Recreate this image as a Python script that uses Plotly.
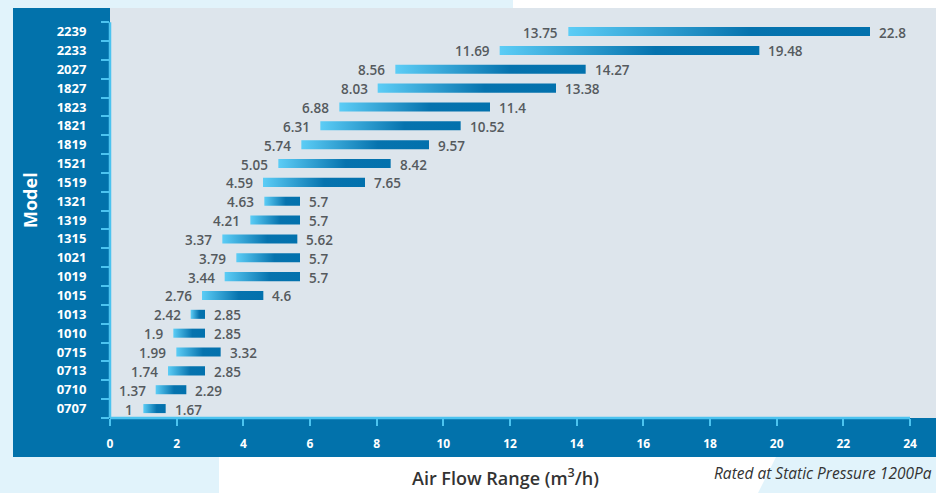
import plotly.graph_objects as go

models = ["0707", "0710", "0713", "0715", "1010", "1013", "1015", "1019", "1021",
          "1315", "1319", "1321", "1519", "1521", "1819", "1821", "1823", "1827",
          "2027", "2233", "2239"]
low = [1, 1.37, 1.74, 1.99, 1.9, 2.42, 2.76, 3.44, 3.79, 3.37, 4.21, 4.63, 4.59,
       5.05, 5.74, 6.31, 6.88, 8.03, 8.56, 11.69, 13.75]
high = [1.67, 2.29, 2.85, 3.32, 2.85, 2.85, 4.6, 5.7, 5.7, 5.62, 5.7, 5.7, 7.65,
        8.42, 9.57, 10.52, 11.4, 13.38, 14.27, 19.48, 22.8]
x_ticks = list(range(0, 25, 2))

W, H = 936, 493
L, R, T, B = 110, 0, 8, 75
PW, PH = W - L - R, H - T - B

FRAME = "#0272ab"
PLOTBG = "#dde5ec"
CYAN = "#4cc3ef"
LIGHTBG = "#e1f3fb"
LABEL = "#555a5e"
FONT = "Open Sans"
HALF = 0.24


def px(x):
    return (x - L) / PW


def py(y):
    return (H - B - y) / PH


fig = go.Figure()

for i, (lo, hi) in enumerate(zip(low, high)):
    fig.add_trace(go.Scatter(
        x=[lo, hi, hi, lo, lo],
        y=[i - HALF, i - HALF, i + HALF, i + HALF, i - HALF],
        mode="lines", fill="toself", line=dict(width=0),
        fillgradient=dict(type="horizontal",
                          colorscale=[[0, "#5ccdf6"], [0.6, "#0673ae"], [1, "#0271ad"]]),
        hoverinfo="skip", showlegend=False))

annotations = []
for i, (lo, hi) in enumerate(zip(low, high)):
    annotations.append(dict(x=lo, y=i, xref="x", yref="y", text=f"{lo:g}",
                            xanchor="right", yanchor="middle", xshift=-8, yshift=-1,
                            showarrow=False,
                            font=dict(family=FONT, size=13.5, color=LABEL, weight=600)))
    annotations.append(dict(x=hi, y=i, xref="x", yref="y", text=f"{hi:g}",
                            xanchor="left", yanchor="middle", xshift=7, yshift=-1,
                            showarrow=False,
                            font=dict(family=FONT, size=13.5, color=LABEL, weight=600)))

annotations.append(dict(x=px(30), y=py(200), xref="paper", yref="paper", text="Model",
                        textangle=-90, showarrow=False, xanchor="center", yanchor="middle",
                        font=dict(family=FONT, size=18, color="white", weight=700)))
annotations.append(dict(x=px(505), y=py(477), xref="paper", yref="paper",
                        text="Air Flow Range (m<sup>3</sup>/h)", showarrow=False,
                        xanchor="center", yanchor="middle",
                        font=dict(family=FONT, size=18, color="#333333", weight=600)))
annotations.append(dict(x=px(712), y=py(473), xref="paper", yref="paper",
                        text="<i>Rated at Static Pressure 1200Pa</i>", showarrow=False,
                        xanchor="left", yanchor="middle",
                        font=dict(family=FONT, size=15.5, color="#333333")))

shapes = [
    # light background pieces
    dict(type="rect", xref="paper", yref="paper", x0=px(0), x1=px(513), y0=py(0), y1=py(8),
         fillcolor=LIGHTBG, line_width=0, layer="below"),
    dict(type="rect", xref="paper", yref="paper", x0=px(0), x1=px(13), y0=py(0), y1=py(493),
         fillcolor=LIGHTBG, line_width=0, layer="below"),
    dict(type="rect", xref="paper", yref="paper", x0=px(0), x1=px(219), y0=py(457), y1=py(493),
         fillcolor=LIGHTBG, line_width=0, layer="below"),
    dict(type="path", xref="paper", yref="paper",
         path=f"M {px(776)},{py(457)} L {px(936)},{py(457)} L {px(936)},{py(493)} L {px(758)},{py(493)} Z",
         fillcolor=LIGHTBG, line_width=0, layer="below"),
    # blue frame
    dict(type="rect", xref="paper", yref="paper", x0=px(13), x1=px(110), y0=py(8), y1=py(457),
         fillcolor=FRAME, line_width=0, layer="below"),
    dict(type="rect", xref="paper", yref="paper", x0=px(13), x1=px(936), y0=py(418), y1=py(457),
         fillcolor=FRAME, line_width=0, layer="below"),
    # axis lines
    dict(type="line", xref="x", yref="paper", x0=0, x1=24, y0=0, y1=0,
         line=dict(color=CYAN, width=2.5), layer="above"),
    dict(type="line", xref="paper", yref="y", x0=0, x1=0, y0=-0.5, y1=len(models) - 0.5,
         line=dict(color=CYAN, width=2.5), layer="above"),
]

fig.update_layout(
    width=W, height=H,
    margin=dict(l=L, r=R, t=T, b=B, pad=0),
    paper_bgcolor="white", plot_bgcolor=PLOTBG,
    showlegend=False,
    annotations=annotations, shapes=shapes,
    xaxis=dict(range=[0, PW / 800 * 24], tickvals=x_ticks, ticktext=[str(v) for v in x_ticks],
               showgrid=False, zeroline=False, showline=False,
               ticks="outside", ticklen=7, tickwidth=2, tickcolor=CYAN,
               ticklabelstandoff=8,
               tickfont=dict(family=FONT, size=12, color="white", weight=700)),
    yaxis=dict(range=[-0.5, 21.25], tickvals=list(range(len(models))), ticktext=models,
               showgrid=False, zeroline=False, showline=False,
               ticks="outside", ticklen=0, ticklabelstandoff=20,
               minor=dict(tickvals=[i - 0.5 for i in range(len(models) + 1)],
                          ticks="outside", ticklen=8, tickwidth=2, tickcolor=CYAN,
                          showgrid=False),
               tickfont=dict(family=FONT, size=13, color="white", weight=700)),
)

fig.write_html("out.html", config={"displayModeBar": False},
               post_script="document.body.style.margin='0';document.body.style.overflow='hidden';")
